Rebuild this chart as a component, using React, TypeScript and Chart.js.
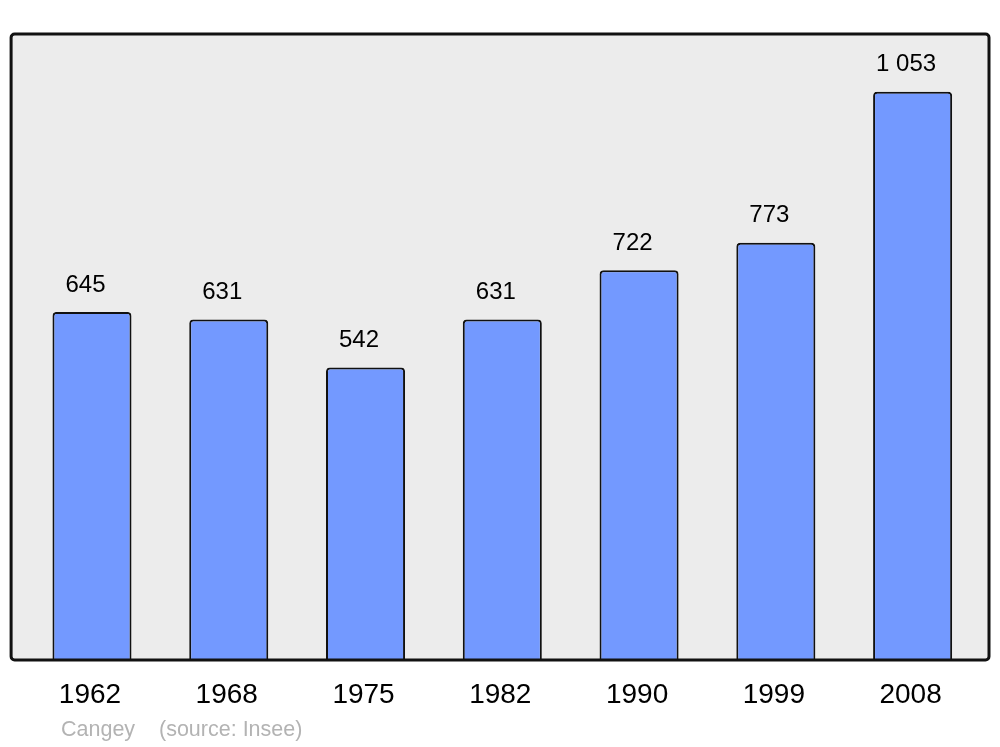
import React, { useEffect, useRef } from "react";
import { Chart, registerables } from "chart.js";

Chart.register(...registerables);

const years = ["1962", "1968", "1975", "1982", "1990", "1999", "2008"];
const population = [645, 631, 542, 631, 722, 773, 1053];
const commune = "Cangey";
const sourceText = "(source: Insee)";

const fmt = (v: number) => {
  const s = String(v);
  return s.replace(/\B(?=(\d{3})+(?!\d))/g, " ");
};

const overlay = {
  id: "overlay",
  beforeDatasetsDraw(chart: any) {
    const { ctx, chartArea } = chart;
    const l = chartArea.left - 12.5;
    const r = chartArea.right + 8;
    const t = chartArea.top;
    const b = chartArea.bottom;
    ctx.save();
    ctx.beginPath();
    ctx.roundRect(l, t, r - l, b - t, 3);
    ctx.fillStyle = "#ececec";
    ctx.fill();
    ctx.restore();
  },
  afterDatasetsDraw(chart: any) {
    const { ctx, chartArea, scales } = chart;
    const l = chartArea.left - 12.5;
    const r = chartArea.right + 8;
    const t = chartArea.top;
    const b = chartArea.bottom;
    ctx.save();
    ctx.beginPath();
    ctx.roundRect(l, t, r - l, b - t, 3.5);
    ctx.lineWidth = 3;
    ctx.strokeStyle = "#111111";
    ctx.stroke();

    ctx.fillStyle = "#000000";
    ctx.textAlign = "center";
    ctx.textBaseline = "middle";
    ctx.font = "24px 'Liberation Sans', Arial, sans-serif";
    population.forEach((v, i) => {
      const x = scales.x.getPixelForValue(i);
      const y = scales.y.getPixelForValue(v);
      ctx.fillText(fmt(v), x - 6.5, y - 27);
    });
    ctx.font = "28px 'Liberation Sans', Arial, sans-serif";
    years.forEach((yr, i) => {
      const x = scales.x.getPixelForValue(i);
      ctx.fillText(yr, x - 2, b + 35.5);
    });
    ctx.fillStyle = "#b3b3b3";
    ctx.textAlign = "left";
    ctx.font = "21.5px 'Liberation Sans', Arial, sans-serif";
    ctx.fillText(commune, 61, b + 70);
    ctx.fillText(sourceText, 159, b + 70);
    ctx.restore();
  },
};

export default function App() {
  const ref = useRef<HTMLCanvasElement>(null);
  useEffect(() => {
    if (!ref.current) return;
    const chart = new Chart(ref.current, {
      type: "bar",
      data: {
        labels: years,
        datasets: [
          {
            data: population,
            backgroundColor: "#7399ff",
            borderColor: "#111111",
            borderWidth: 2,
            borderRadius: { topLeft: 4, topRight: 4, bottomLeft: 0, bottomRight: 0 },
            borderSkipped: "bottom",
            barPercentage: 0.578,
            categoryPercentage: 1,
          },
        ],
      },
      options: {
        animation: false,
        responsive: false,
        maintainAspectRatio: false,
        layout: { padding: { top: 34, bottom: 87, left: 23.6, right: 19 } },
        plugins: { legend: { display: false }, tooltip: { enabled: false } },
        scales: {
          x: { display: false },
          y: { display: false, min: 0, max: 1160 },
        },
      },
      plugins: [overlay],
    });
    return () => chart.destroy();
  }, []);
  return (
    <div style={{ position: "absolute", left: 0, top: 0, width: 1000, height: 747, background: "#fff" }}>
      <canvas ref={ref} width={1000} height={747} style={{ width: 1000, height: 747 }} />
    </div>
  );
}
